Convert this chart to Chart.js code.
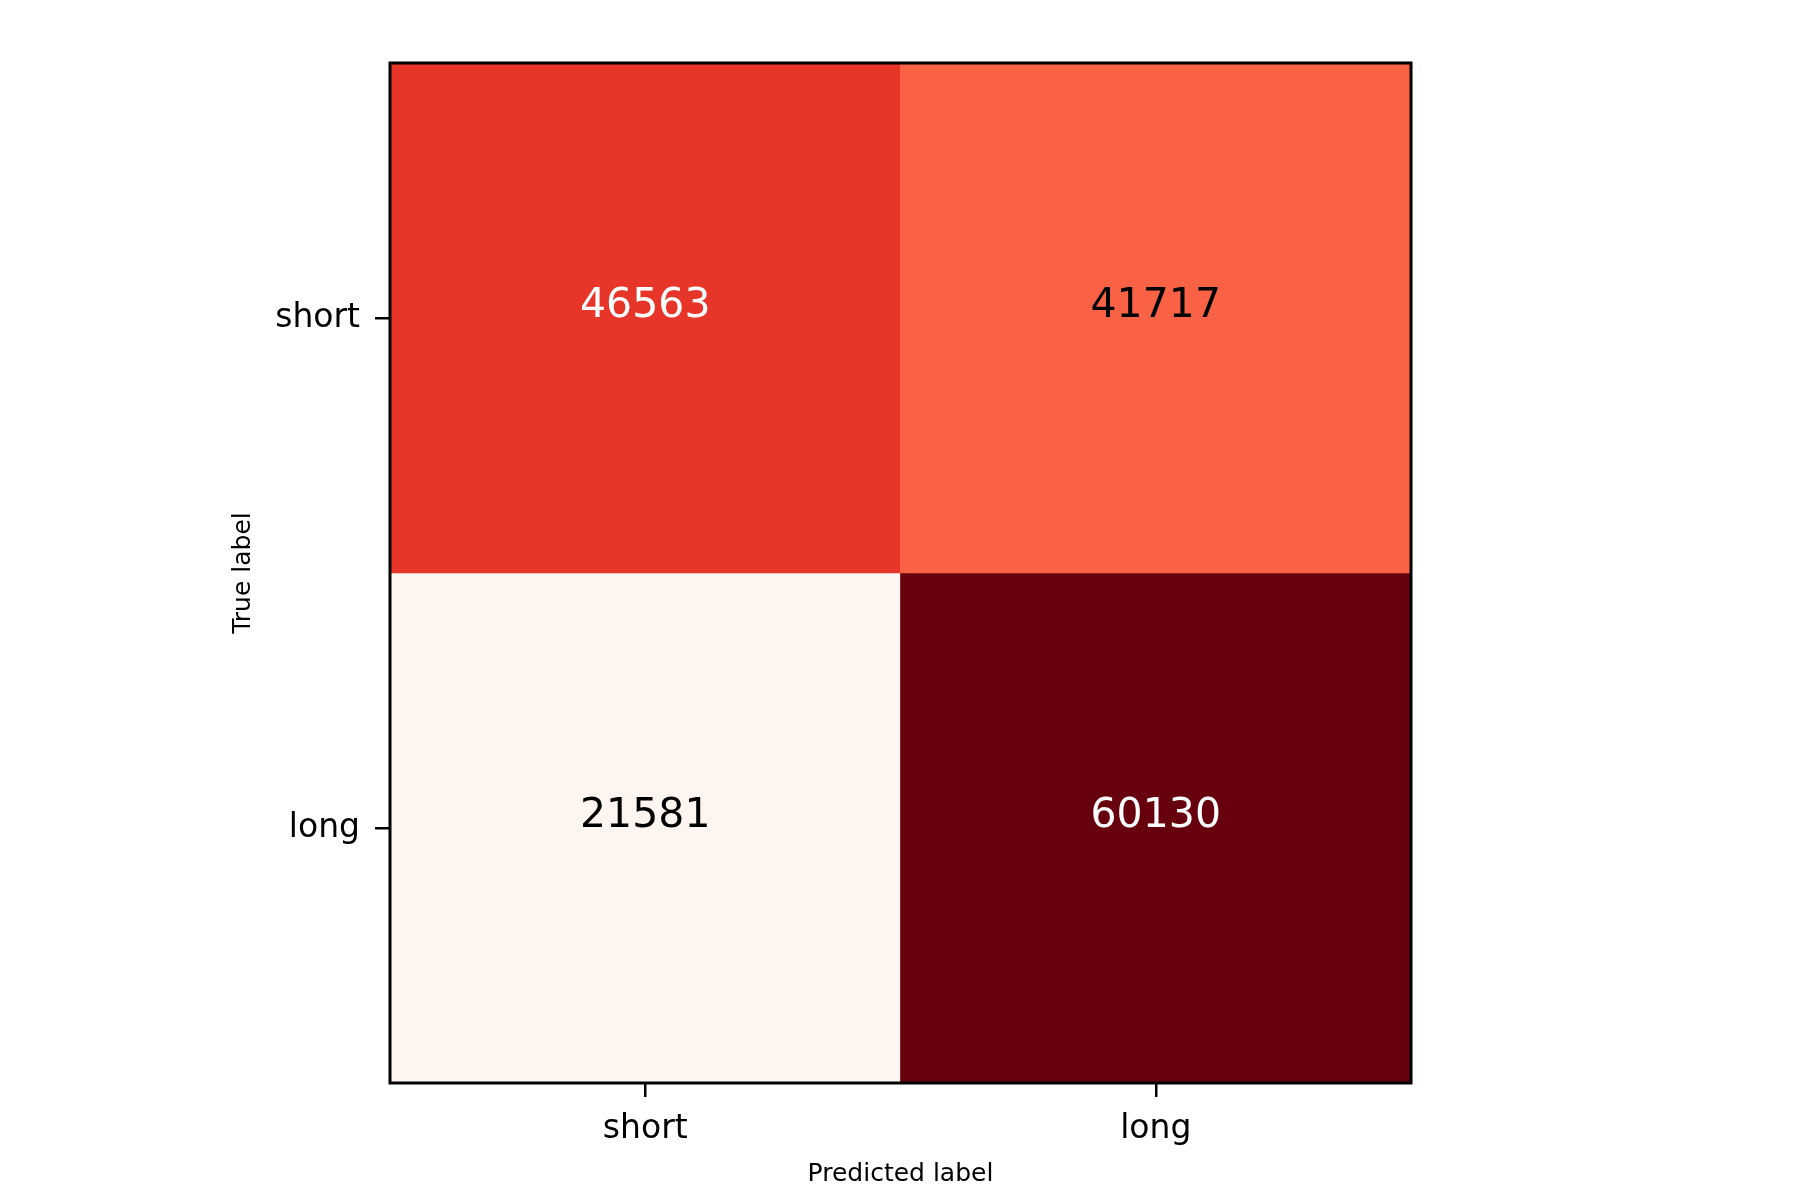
<!DOCTYPE html>
<html>
<head>
<meta charset="utf-8">
<title>Confusion matrix</title>
<script src="https://cdn.jsdelivr.net/npm/chart.js@4/dist/chart.umd.min.js"></script>
<style>
  body { margin: 0; background: #fff; }
  #wrap { width: 1800px; height: 1200px; }
</style>
</head>
<body>
<div id="wrap"><canvas id="cm"></canvas></div>
<script>
// confusion matrix data
const predLabels = ["short", "long"];
const trueLabels = ["short", "long"];
const rowShort = [46563, 41717];
const rowLong = [21581, 60130];
const rows = [rowShort, rowLong];

// matplotlib "Reds" colormap stops
const reds = ["#fff5f0", "#fee0d2", "#fcbba1", "#fc9272", "#fb6a4a", "#ef3b2c", "#cb181d", "#a50f15", "#67000d"];

const allVals = rows.flat();
const vMin = Math.min(...allVals);
const vMax = Math.max(...allVals);

function hexToRgb(h) {
    return [parseInt(h.substr(1, 2), 16), parseInt(h.substr(3, 2), 16), parseInt(h.substr(5, 2), 16)];
}
function norm(v) {
    return (v - vMin) / (vMax - vMin);
}
function redsColor(v) {
    var t = norm(v) * (reds.length - 1);
    var i = Math.min(Math.floor(t), reds.length - 2);
    var f = t - i;
    var a = hexToRgb(reds[i]), b = hexToRgb(reds[i + 1]);
    var c = a.map((x, k) => Math.round(x + (b[k] - x) * f));
    return `rgb(${c[0]}, ${c[1]}, ${c[2]})`;
}

Chart.defaults.font.family = "'DejaVu Sans', sans-serif";
Chart.defaults.color = "#000";

// one dataset per true label row, floating bars fill the cells
const datasets = rows.map((vals, r) => ({
    label: trueLabels[r],
    data: vals.map(() => [r, r + 1]),
    counts: vals,
    backgroundColor: vals.map(redsColor),
    borderWidth: 0,
    grouped: false,
    categoryPercentage: 1,
    barPercentage: 1
}));

// cell numbers + frame
const cellText = {
    id: "cellText",
    afterDatasetsDraw(chart) {
        const ctx = chart.ctx;
        ctx.save();
        ctx.font = "41px 'DejaVu Sans'";
        ctx.textAlign = "center";
        ctx.textBaseline = "alphabetic";
        chart.data.datasets.forEach((ds, di) => {
            chart.getDatasetMeta(di).data.forEach((el, j) => {
                const v = ds.counts[j];
                ctx.fillStyle = norm(v) > 0.6 ? "#fff" : "#000";
                ctx.fillText(String(v), el.x, (el.y + el.base) / 2 - 1);
            });
        });
        const a = chart.chartArea;
        ctx.strokeStyle = "#000";
        ctx.lineWidth = 3;
        ctx.strokeRect(a.left, a.top, a.right - a.left, a.bottom - a.top);
        ctx.restore();
    }
};

new Chart(document.getElementById("cm"), {
    type: "bar",
    data: { labels: predLabels, datasets: datasets },
    options: {
        responsive: true,
        maintainAspectRatio: false,
        devicePixelRatio: 1,
        animation: false,
        layout: { padding: { left: 0, top: 63, right: 389, bottom: 0 } },
        plugins: { legend: { display: false }, tooltip: { enabled: false } },
        scales: {
            x: {
                type: "category",
                offset: true,
                border: { display: false },
                grid: { offset: false, drawOnChartArea: false, drawTicks: true, tickLength: 14, color: "#000", lineWidth: 2.5 },
                ticks: { font: { size: 33 }, padding: 13, maxRotation: 0 },
                title: { display: true, text: "Predicted label", font: { size: 25 }, padding: { top: 0, bottom: 11 } },
                afterFit: (s) => { s.height = 117; }
            },
            y: {
                type: "linear",
                min: 0,
                max: 2,
                reverse: true,
                border: { display: false },
                grid: { drawOnChartArea: false, drawTicks: true, tickLength: 15, color: "#000", lineWidth: 2.5 },
                afterBuildTicks: (s) => { s.ticks = trueLabels.map((l, i) => ({ value: i + 0.5 })); },
                ticks: { font: { size: 33 }, padding: 15, callback: (v, i) => trueLabels[i] },
                title: { display: true, text: "True label", font: { size: 25 }, padding: { top: 228, bottom: 0 } },
                afterFit: (s) => { s.width = 390; }
            }
        }
    },
    plugins: [cellText]
});
</script>
</body>
</html>
